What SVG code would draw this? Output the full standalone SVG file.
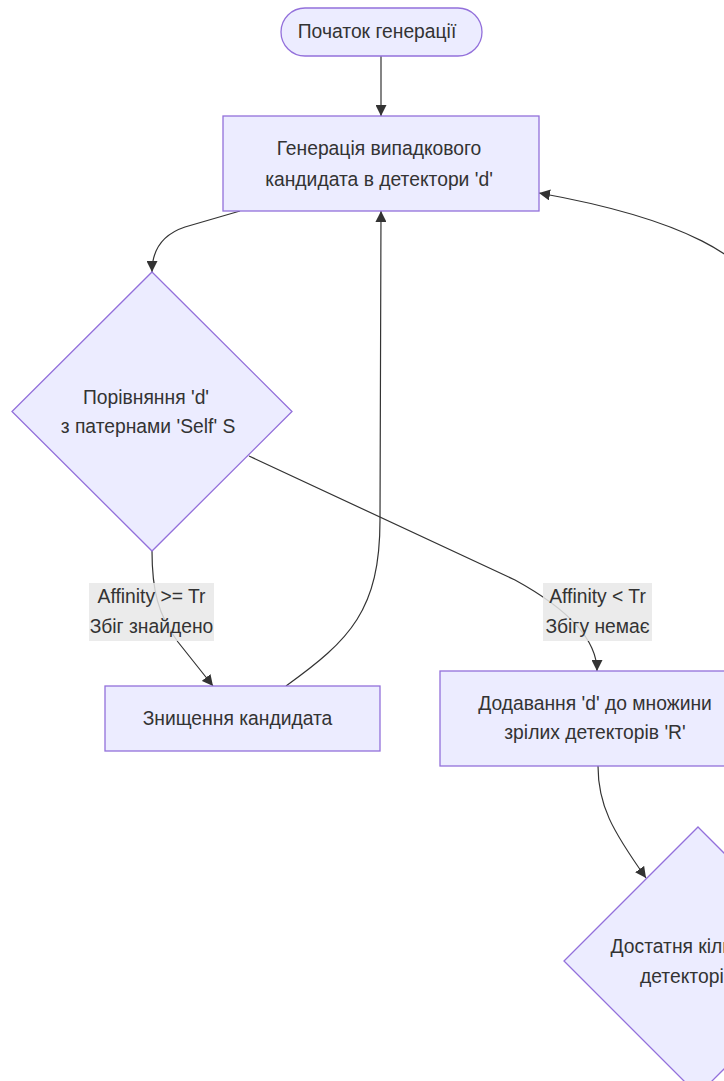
<svg xmlns="http://www.w3.org/2000/svg" width="724" height="1081" viewBox="0 0 724 1081">
  <defs>
    <marker id="arrow" viewBox="0 0 10 10" refX="10" refY="5" markerUnits="userSpaceOnUse" markerWidth="11" markerHeight="11" orient="auto">
      <path d="M0,0 L10,5 L0,10 z" fill="#333333"/>
    </marker>
  </defs>
  <style>
    .node { fill: #ECECFF; stroke: #9370DB; stroke-width: 1.3; }
    .label { font-family: "Liberation Sans", Arial, sans-serif; font-size: 19.3px; fill: #333333; }
    .mid { text-anchor: middle; }
    .edge { fill: none; stroke: #333333; stroke-width: 1.2; }
    .edge-bg { fill: #e8e8e8; opacity: 0.85; }
  </style>
  <rect width="724" height="1081" fill="#ffffff"/>

  <!-- connectors -->
  <g id="connectors">
    <path class="edge" d="M381,56 L381,116" marker-end="url(#arrow)"/>
    <path class="edge" d="M240,211 L185,227 Q152,238 152,272" marker-end="url(#arrow)"/>
    <path class="edge" d="M152,551 C152,590 158,615 178,642 L213,686" marker-end="url(#arrow)"/>
    <path class="edge" d="M286,686 C350,640 380,610 380,520 L381,211" marker-end="url(#arrow)"/>
    <path class="edge" d="M249,456 L515,580 Q597,625 597,671" marker-end="url(#arrow)"/>
    <path class="edge" d="M598,766 C598,805 612,830 646,878" marker-end="url(#arrow)"/>
    <path class="edge" d="M770,300 C745,258 690,220 539,193" marker-end="url(#arrow)"/>
  </g>

  <!-- edge labels -->
  <g id="edge-label-match">
    <rect class="edge-bg" x="89" y="583" width="125" height="58"/>
    <text class="label mid" x="151.5" y="603">Affinity &gt;= Tr</text>
    <text class="label mid" x="151.5" y="633">Збіг знайдено</text>
  </g>
  <g id="edge-label-nomatch">
    <rect class="edge-bg" x="543" y="583" width="109" height="58"/>
    <text class="label mid" x="597.5" y="603">Affinity &lt; Tr</text>
    <text class="label mid" x="597.5" y="633">Збігу немає</text>
  </g>

  <!-- nodes -->
  <g id="start">
    <rect class="node" x="281" y="8" width="201" height="48" rx="24" ry="24"/>
    <text class="label mid" x="377" y="38">Початок генерації</text>
  </g>
  <g id="generate">
    <rect class="node" x="223" y="116" width="316" height="95"/>
    <text class="label mid" x="379" y="155">Генерація випадкового</text>
    <text class="label mid" x="379" y="186">кандидата в детектори 'd'</text>
  </g>
  <g id="compare">
    <polygon class="node" points="152,272 292,411.5 152,551 12,411.5"/>
    <text class="label mid" x="146" y="404">Порівняння 'd'</text>
    <text class="label mid" x="148" y="433">з патернами 'Self' S</text>
  </g>
  <g id="destroy">
    <rect class="node" x="105" y="686" width="275" height="65"/>
    <text class="label mid" x="237.5" y="725">Знищення кандидата</text>
  </g>
  <g id="add">
    <rect class="node" x="440" y="671" width="311" height="95"/>
    <text class="label mid" x="595" y="710">Додавання 'd' до множини</text>
    <text class="label mid" x="595" y="739">зрілих детекторів 'R'</text>
  </g>
  <g id="enough">
    <polygon class="node" points="698,827 832,961 698,1095 564,961"/>
    <text class="label" x="610.5" y="953">Достатня кількість</text>
    <text class="label" x="640" y="983">детекторів?</text>
  </g>
</svg>
